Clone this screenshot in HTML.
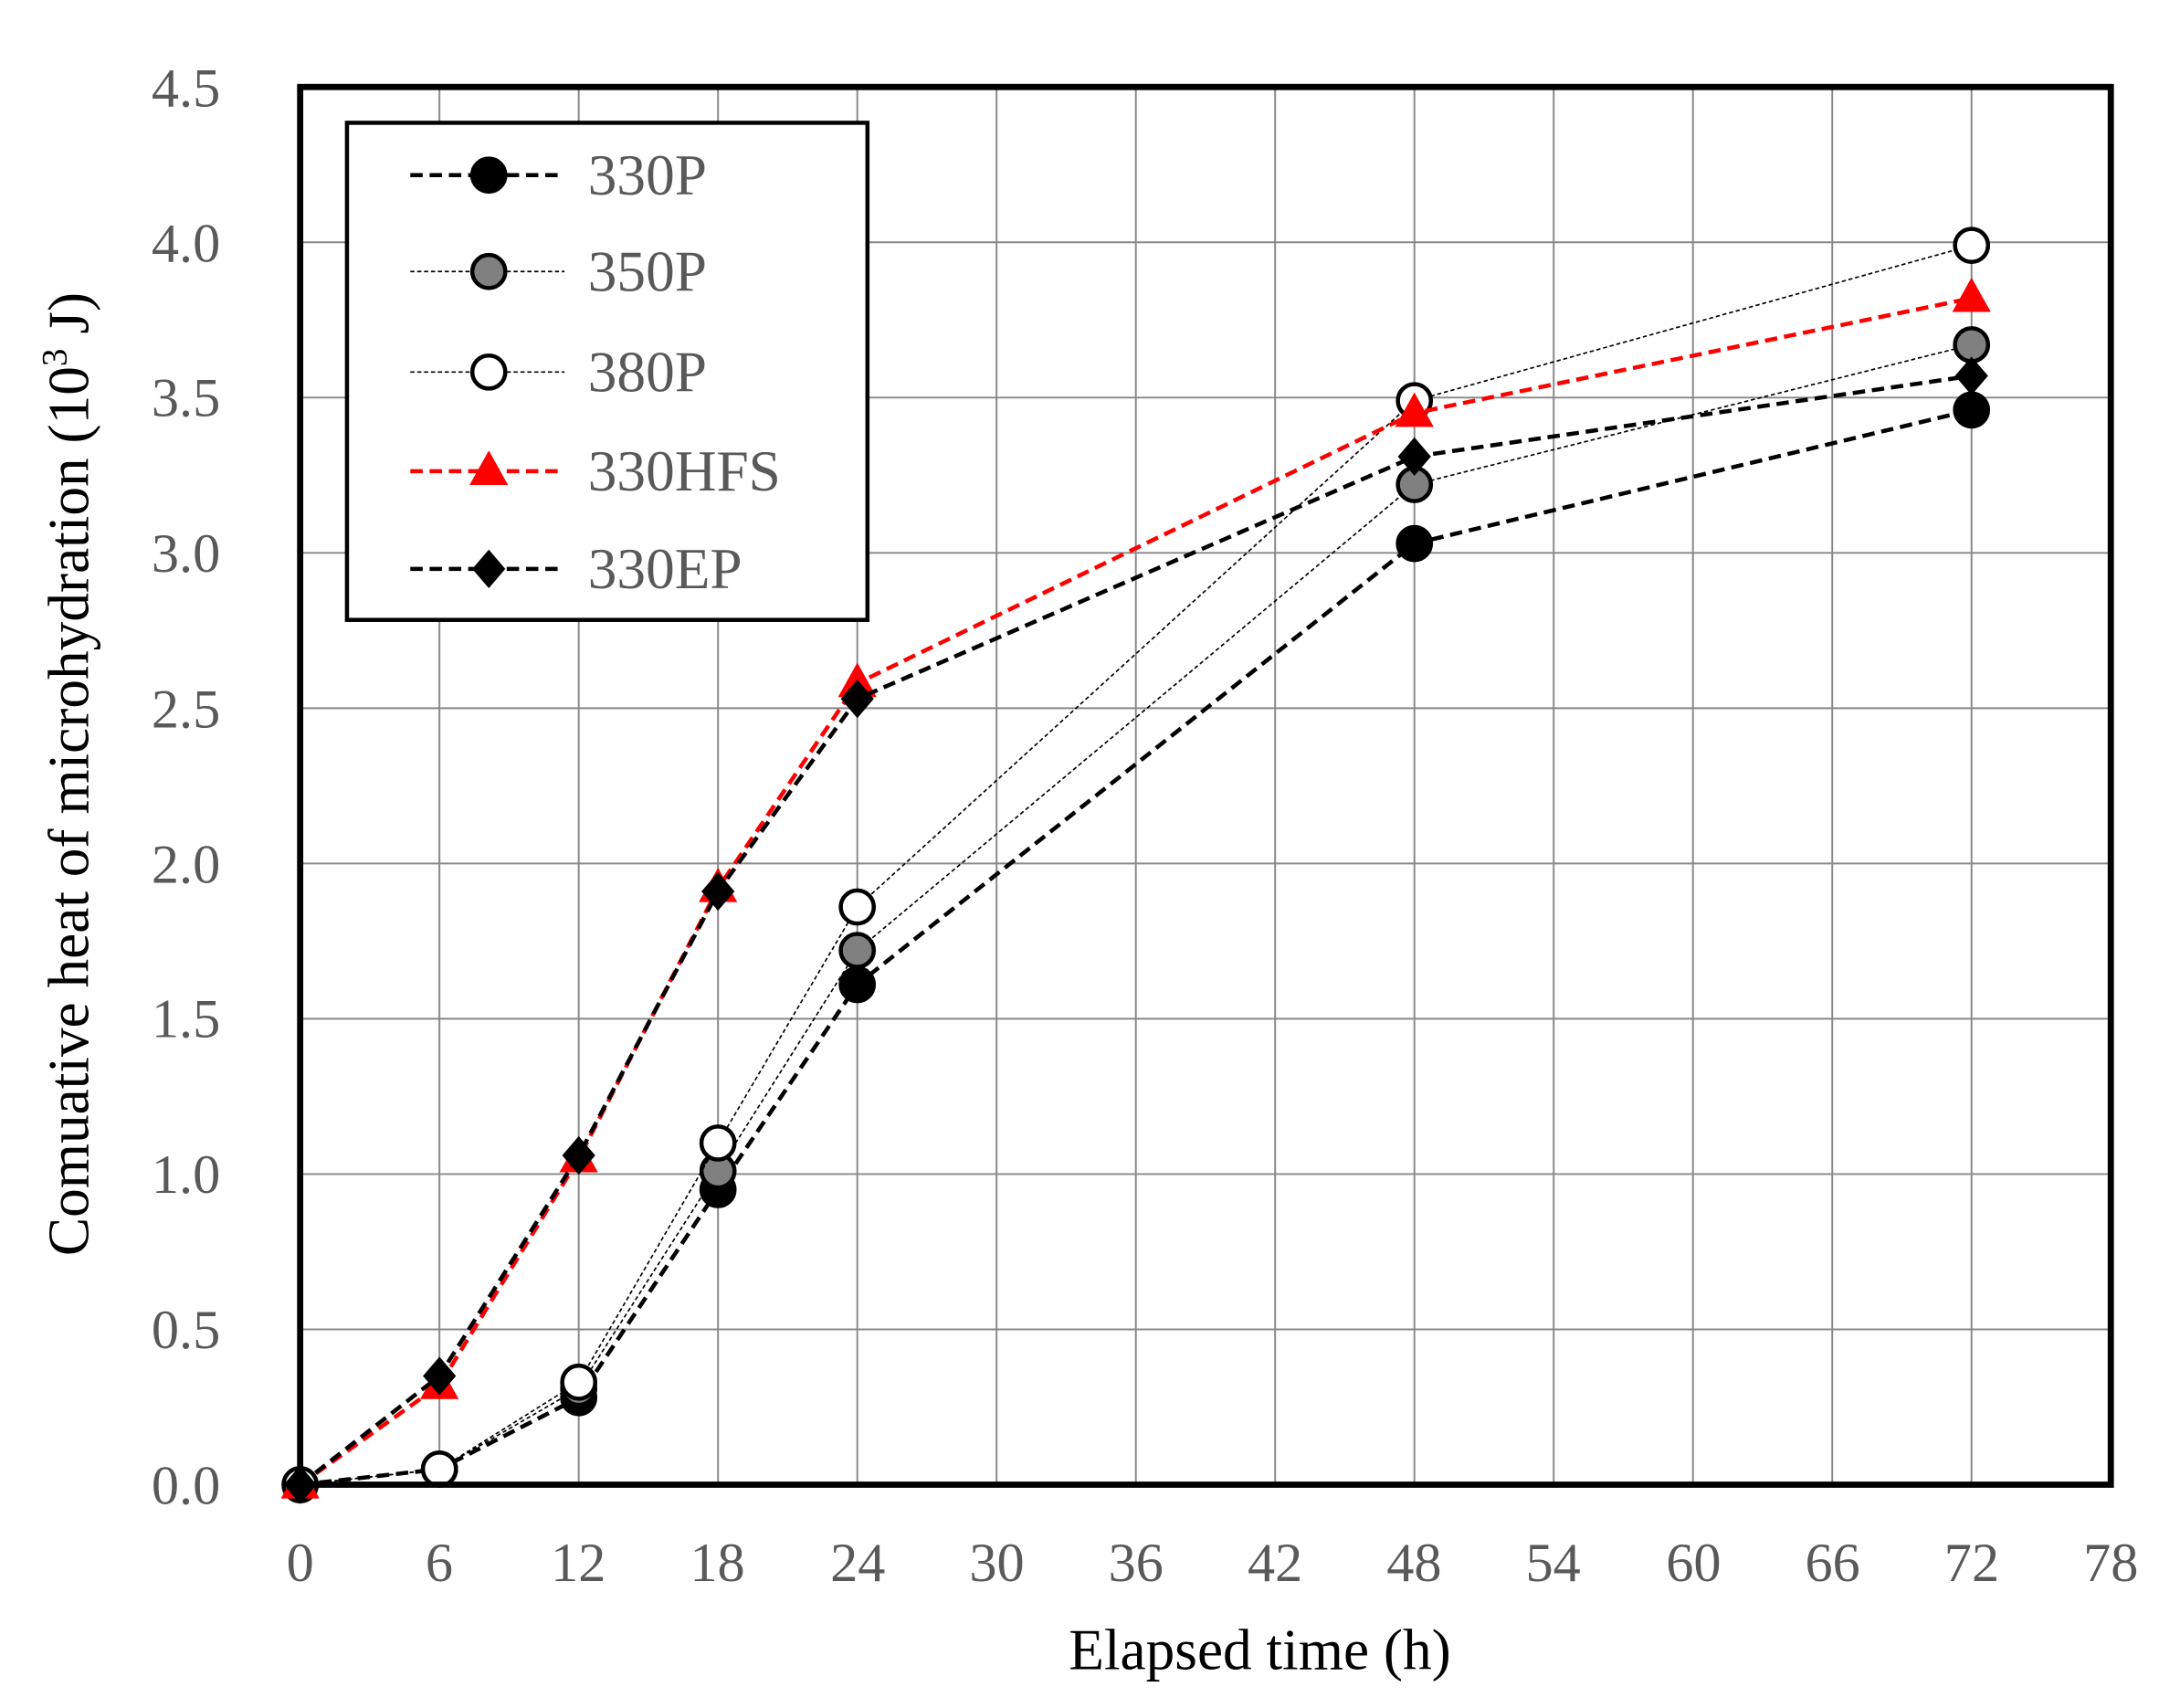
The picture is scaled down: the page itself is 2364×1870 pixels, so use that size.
<!DOCTYPE html>
<html><head><meta charset="utf-8"><style>html,body{margin:0;padding:0;background:#fff}svg{display:block}</style></head>
<body>
<svg id="s" xmlns="http://www.w3.org/2000/svg" width="2364" height="1870" viewBox="0 0 1568 1240">
<rect width="1568" height="1240" fill="#fff"/>
<g id="grid" stroke="#888" stroke-width="1.3"></g>
<g id="series"></g>
<rect x="218" y="63" width="1315" height="1015" fill="none" stroke="#000" stroke-width="4.5"/>
<g font-family="Liberation Serif, serif" font-size="40" fill="#595959" text-anchor="end">
<text x="160" y="1092">0.0</text><text x="160" y="979">0.5</text><text x="160" y="866">1.0</text>
<text x="160" y="753">1.5</text><text x="160" y="641">2.0</text><text x="160" y="528">2.5</text>
<text x="160" y="415">3.0</text><text x="160" y="302">3.5</text><text x="160" y="190">4.0</text>
<text x="160" y="77">4.5</text>
</g>
<g font-family="Liberation Serif, serif" font-size="40" fill="#595959" text-anchor="middle">
<text x="218" y="1148">0</text><text x="319" y="1148">6</text><text x="420" y="1148">12</text>
<text x="521" y="1148">18</text><text x="623" y="1148">24</text><text x="724" y="1148">30</text>
<text x="825" y="1148">36</text><text x="926" y="1148">42</text><text x="1027" y="1148">48</text>
<text x="1128" y="1148">54</text><text x="1230" y="1148">60</text><text x="1331" y="1148">66</text>
<text x="1432" y="1148">72</text><text x="1533" y="1148">78</text>
</g>
<text x="915" y="1212" font-family="Liberation Serif, serif" font-size="42" fill="#000" text-anchor="middle">Elapsed time (h)</text>
<text transform="translate(64,562) rotate(-90)" font-family="Liberation Serif, serif" font-size="42" fill="#000" text-anchor="middle">Comuative heat of microhydration (10<tspan font-size="26" dy="-16">3</tspan><tspan dy="16"> J)</tspan></text>
<rect x="252" y="89" width="378" height="361" fill="#fff" stroke="#000" stroke-width="3"/>
<g id="legend"></g>
<g font-family="Liberation Serif, serif" font-size="42" fill="#595959">
<text x="427" y="141">330P</text><text x="427" y="211">350P</text><text x="427" y="284">380P</text>
<text x="427" y="356">330HFS</text><text x="427" y="427">330EP</text>
</g>
</svg>
<script>
const NS="http://www.w3.org/2000/svg";
const X=t=>218+t*(1315/78), Y=v=>1078-v*(1015/4.5);
const g=document.getElementById('grid');
for(let t=6;t<78;t+=6){const l=document.createElementNS(NS,'line');l.setAttribute('x1',X(t));l.setAttribute('x2',X(t));l.setAttribute('y1',63);l.setAttribute('y2',1078);g.appendChild(l);}
for(let v=0.5;v<4.5;v+=0.5){const l=document.createElementNS(NS,'line');l.setAttribute('y1',Y(v));l.setAttribute('y2',Y(v));l.setAttribute('x1',218);l.setAttribute('x2',1533);g.appendChild(l);}
const T=[0,6,12,18,24,48,72];
const S=[
 {d:[0,0.05,0.28,0.95,1.61,3.03,3.46],c:'#000',w:3,da:'9,5',m:'o',f:'#000'},
 {d:[0,0.05,0.31,1.01,1.72,3.22,3.67],c:'#000',w:1.1,da:'3,2',m:'o',f:'#808080'},
 {d:[0,0.05,0.33,1.10,1.86,3.49,3.99],c:'#000',w:1.1,da:'3,2',m:'o',f:'#fff'},
 {d:[0,0.32,1.05,1.92,2.58,3.45,3.82],c:'#f00',w:3,da:'9,5',m:'t',f:'#f00'},
 {d:[0,0.35,1.06,1.91,2.53,3.31,3.57],c:'#000',w:3,da:'9,5',m:'d',f:'#000'}
];
const sg=document.getElementById('series');
function marker(par,m,x,y,f){let e;
 if(m=='o'){e=document.createElementNS(NS,'circle');e.setAttribute('cx',x);e.setAttribute('cy',y);e.setAttribute('r',12);e.setAttribute('fill',f);e.setAttribute('stroke','#000');e.setAttribute('stroke-width',3);}
 else if(m=='t'){e=document.createElementNS(NS,'polygon');e.setAttribute('points',`${x},${y-15} ${x+14},${y+10} ${x-14},${y+10}`);e.setAttribute('fill',f);}
 else {e=document.createElementNS(NS,'polygon');e.setAttribute('points',`${x},${y-14} ${x+12},${y} ${x},${y+14} ${x-12},${y}`);e.setAttribute('fill',f);}
 par.appendChild(e);}
S.forEach(s=>{const P=T.map((t,i)=>[X(t),Y(s.d[i])]);
 const p=document.createElementNS(NS,'polyline');p.setAttribute('points',P.map(q=>q.join(',')).join(' '));p.setAttribute('fill','none');p.setAttribute('stroke',s.c);p.setAttribute('stroke-width',s.w);p.setAttribute('stroke-dasharray',s.da);sg.appendChild(p);
 P.forEach(q=>marker(sg,s.m,q[0],q[1],s.f));});
const lg=document.getElementById('legend');
const L=[[127,S[0]],[197,S[1]],[270,S[2]],[342,S[3]],[413,S[4]]];
L.forEach(([y,s])=>{const l=document.createElementNS(NS,'line');l.setAttribute('x1',298);l.setAttribute('x2',410);l.setAttribute('y1',y);l.setAttribute('y2',y);l.setAttribute('stroke',s.c);l.setAttribute('stroke-width',s.w);l.setAttribute('stroke-dasharray',s.da);lg.appendChild(l);marker(lg,s.m,355,y,s.f);});
</script>
</body></html>
